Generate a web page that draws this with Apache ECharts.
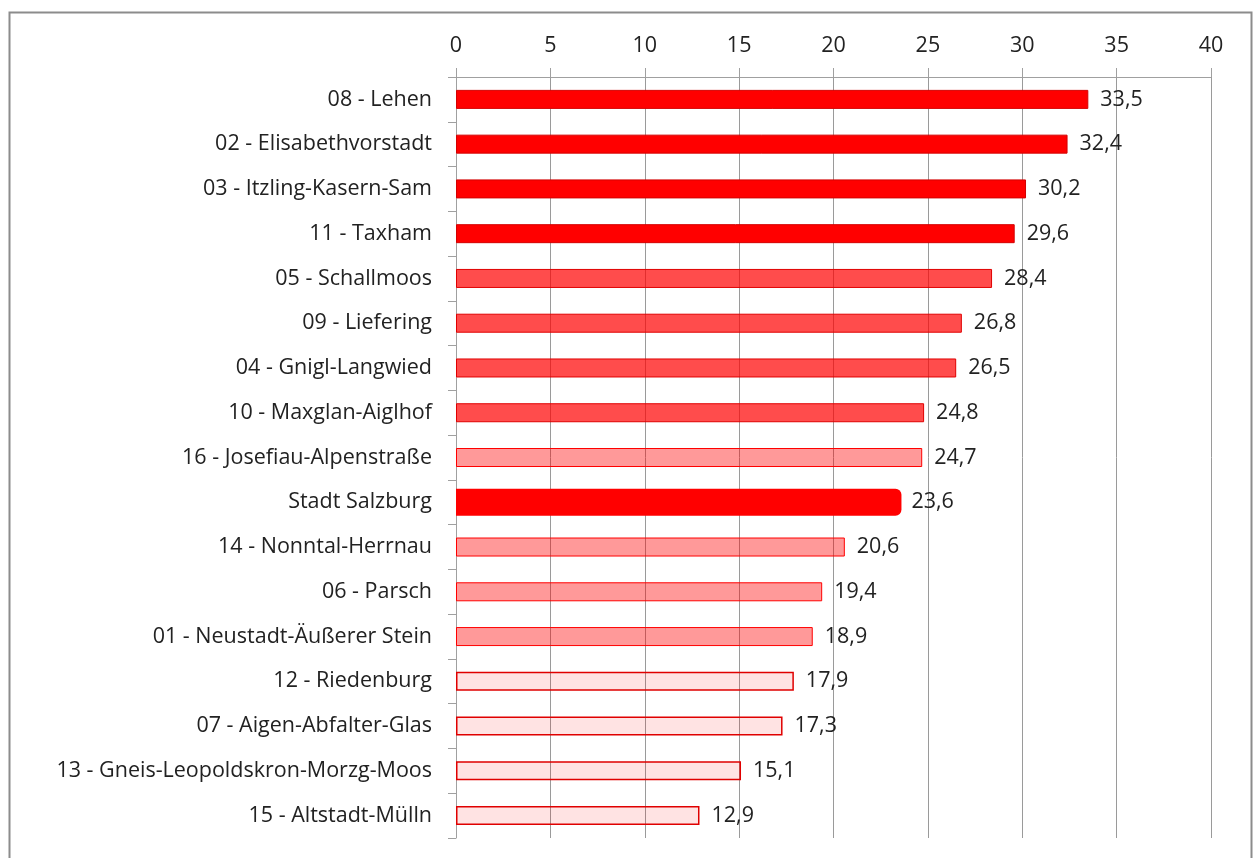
<!DOCTYPE html>
<html>
<head>
<meta charset="utf-8">
<script src="https://cdn.jsdelivr.net/npm/echarts@6/dist/echarts.min.js"></script>
<style>
  html, body { margin: 0; padding: 0; background: #fff; }
  #main { width: 1256px; height: 858px; }
</style>
</head>
<body>
<div id="main"></div>
<script>
// Stadtteile, sortiert wie im Original (von oben nach unten)
var districts = [
  '08 - Lehen', '02 - Elisabethvorstadt', '03 - Itzling-Kasern-Sam', '11 - Taxham',
  '05 - Schallmoos', '09 - Liefering', '04 - Gnigl-Langwied', '10 - Maxglan-Aiglhof',
  '16 - Josefiau-Alpenstraße', 'Stadt Salzburg', '14 - Nonntal-Herrnau', '06 - Parsch',
  '01 - Neustadt-Äußerer Stein', '12 - Riedenburg', '07 - Aigen-Abfalter-Glas',
  '13 - Gneis-Leopoldskron-Morzg-Moos', '15 - Altstadt-Mülln'
];
var values = [33.5, 32.4, 30.2, 29.6, 28.4, 26.8, 26.5, 24.8, 24.7, 23.6, 20.6, 19.4, 18.9, 17.9, 17.3, 15.1, 12.9];
// Farbstufe je Balken: 0 = kräftig, 1 = mittel, 2 = hell, 3 = sehr hell, 'avg' = Stadtdurchschnitt
var tiers = [0, 0, 0, 0, 1, 1, 1, 1, 2, 'avg', 2, 2, 2, 3, 3, 3, 3];
var xTicks = [0, 5, 10, 15, 20, 25, 30, 35, 40];

var tierStyle = {
  0: { color: '#ff0000', borderColor: '#d40000', borderWidth: 1 },
  1: { color: 'rgba(255,0,0,0.70)', borderColor: '#e00000', borderWidth: 1 },
  2: { color: 'rgba(255,0,0,0.40)', borderColor: '#ff0000', borderWidth: 1 },
  3: { color: 'rgba(255,0,0,0.11)', borderColor: '#e00000', borderWidth: 1.5 }
};

var font = '"Open Sans"';
var fs = 21.5;
var fmt = function (p) { return String(p.value).replace('.', ','); };

var districtData = values.map(function (v, i) {
  if (tiers[i] === 'avg') return '-';
  return { value: v, itemStyle: tierStyle[tiers[i]] };
});
var avgData = values.map(function (v, i) {
  return tiers[i] === 'avg' ? v : '-';
});

var chartDom = document.getElementById('main');
var myChart = echarts.init(chartDom);

myChart.setOption({
  animation: false,
  textStyle: { fontFamily: font },
  graphic: [{
    type: 'rect',
    left: 7, top: 10,
    shape: { width: 1242, height: 870 },
    style: { fill: 'none', stroke: '#8c8c8c', lineWidth: 2 },
    silent: true
  }],
  grid: { left: 456, right: 45, top: 77, bottom: 20 },
  xAxis: {
    type: 'value',
    position: 'top',
    min: xTicks[0],
    max: xTicks[xTicks.length - 1],
    interval: 5,
    axisLine: { show: true, lineStyle: { color: '#a0a0a0' } },
    axisTick: { show: true, length: 9, lineStyle: { color: '#a0a0a0' } },
    axisLabel: { fontSize: fs, color: '#222', margin: 20, fontFamily: font },
    splitLine: { show: true, lineStyle: { color: '#9a9a9a', width: 1 } }
  },
  yAxis: [{
    type: 'category',
    inverse: true,
    data: districts,
    axisLine: { show: true, lineStyle: { color: '#a0a0a0' } },
    axisTick: { show: true, length: 8, lineStyle: { color: '#a0a0a0' } },
    axisLabel: { fontSize: fs, color: '#222', margin: 24, fontFamily: font }
  }, {
    type: 'category',
    inverse: true,
    data: districts,
    show: false
  }],
  series: [{
    type: 'bar',
    yAxisIndex: 0,
    barWidth: 19,
    data: districtData,
    label: {
      show: true, position: 'right', distance: 12,
      fontSize: fs, color: '#222', fontFamily: font, formatter: fmt
    }
  }, {
    type: 'bar',
    yAxisIndex: 1,
    barWidth: 27,
    data: avgData,
    itemStyle: { color: '#ff0000', borderRadius: [0, 6, 6, 0] },
    label: {
      show: true, position: 'right', distance: 10,
      fontSize: fs, color: '#222', fontFamily: font, formatter: fmt
    }
  }]
});
</script>
</body>
</html>
